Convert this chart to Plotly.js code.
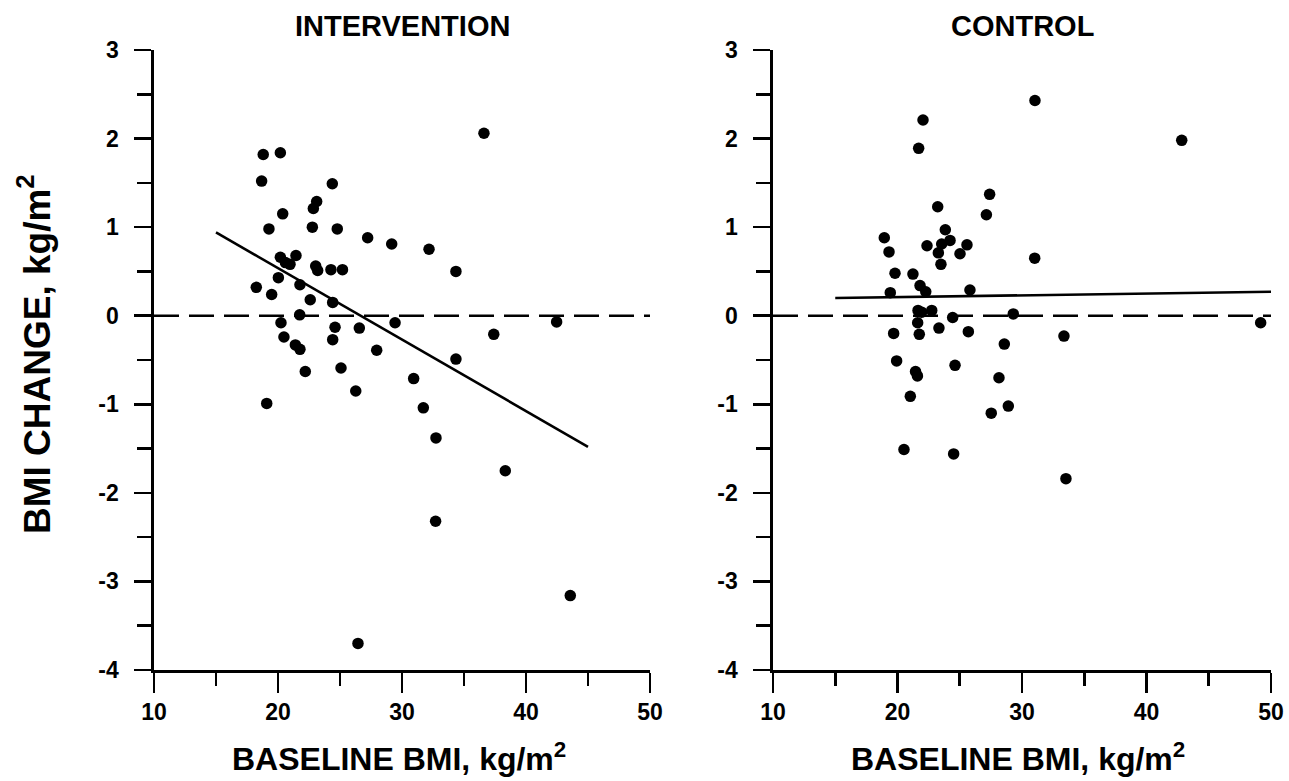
<!DOCTYPE html>
<html>
<head>
<meta charset="utf-8">
<script src="https://cdn.plot.ly/plotly-3.0.1.min.js"></script>
<style>html,body{margin:0;padding:0;background:#fff;}#chart{width:1289px;height:781px;}</style>
</head>
<body>
<div id="chart"></div>
<script>
// Intervention group: baseline BMI vs BMI change
var interventionX = [18.81,20.19,18.68,24.38,23.12,22.85,20.38,19.27,22.77,24.78,27.23,29.17,20.19,21.45,20.97,20.6,23.04,23.2,24.27,25.2,20.03,18.25,19.49,21.77,22.6,24.41,21.75,20.24,24.6,26.56,29.44,20.48,24.41,21.4,21.77,27.96,22.2,25.08,26.27,19.09,36.61,32.18,34.35,37.4,34.35,42.47,30.94,31.72,32.74,38.33,32.71,43.57,26.45];
var interventionY = [1.82,1.84,1.52,1.49,1.29,1.21,1.15,0.98,1.00,0.98,0.88,0.81,0.66,0.68,0.58,0.60,0.56,0.51,0.52,0.52,0.43,0.32,0.24,0.35,0.18,0.15,0.01,-0.08,-0.13,-0.14,-0.08,-0.24,-0.27,-0.33,-0.38,-0.39,-0.63,-0.59,-0.85,-0.99,2.06,0.75,0.50,-0.21,-0.49,-0.07,-0.71,-1.04,-1.38,-1.75,-2.32,-3.16,-3.70];
// Control group
var controlX = [31.04,22.05,21.7,27.4,27.14,23.23,23.84,18.94,19.32,24.22,22.37,23.55,23.28,25.58,25.02,23.49,31.02,19.8,21.24,21.81,22.27,19.42,25.82,21.65,21.94,22.75,29.3,24.43,21.62,19.69,21.75,23.33,25.69,28.58,19.93,21.45,21.6,24.62,28.15,21.03,28.9,27.53,20.52,24.51,42.83,49.17,33.37,33.53];
var controlY = [2.43,2.21,1.89,1.37,1.14,1.23,0.97,0.88,0.72,0.85,0.79,0.81,0.71,0.80,0.70,0.58,0.65,0.48,0.47,0.34,0.27,0.26,0.29,0.06,0.04,0.06,0.02,-0.02,-0.08,-0.20,-0.21,-0.14,-0.18,-0.32,-0.51,-0.63,-0.68,-0.56,-0.70,-0.91,-1.02,-1.10,-1.51,-1.56,1.98,-0.08,-0.23,-1.84];
// Fitted regression lines (end points)
var interventionFitX = [15, 45];
var interventionFitY = [0.94, -1.48];
var controlFitX = [15, 50];
var controlFitY = [0.20, 0.27];
// Zero reference line
var refX = [10, 50];
var refY = [0, 0];
// Axis ticks
var xTickVals = [10, 20, 30, 40, 50];
var xTickText = ['10', '20', '30', '40', '50'];
var yTickVals = [-4, -3, -2, -1, 0, 1, 2, 3];
var yTickText = ['-4', '-3', '-2', '-1', '0', '1', '2', '3'];
var panelTitles = ['INTERVENTION', 'CONTROL'];
var xTitle = 'BASELINE BMI, kg/m<sup>2</sup>';
var yTitle = 'BMI CHANGE, kg/m<sup>2</sup>';

var FONT = 'Liberation Sans, Arial, Helvetica, sans-serif';
var W = 1289, H = 781;

function markerTrace(x, y, xa, ya) {
  return {x: x, y: y, xaxis: xa, yaxis: ya, type: 'scatter', mode: 'markers',
    marker: {color: 'black', size: 11.5, line: {width: 0}}, hoverinfo: 'skip', cliponaxis: false};
}
function lineTrace(x, y, xa, ya, dash) {
  return {x: x, y: y, xaxis: xa, yaxis: ya, type: 'scatter', mode: 'lines',
    line: {color: 'black', width: 2.6, dash: dash}, hoverinfo: 'skip'};
}

var data = [
  lineTrace(refX, refY, 'x', 'y', '25px,10px'),
  lineTrace(refX, refY, 'x2', 'y2', '25px,10px'),
  lineTrace(interventionFitX, interventionFitY, 'x', 'y', 'solid'),
  lineTrace(controlFitX, controlFitY, 'x2', 'y2', 'solid'),
  markerTrace(interventionX, interventionY, 'x', 'y'),
  markerTrace(controlX, controlY, 'x2', 'y2')
];

function xAxis(d0, d1, anchor) {
  return {domain: [d0 / W, d1 / W], range: [10, 50], anchor: anchor,
    showline: true, linecolor: 'black', linewidth: 2.6, mirror: false,
    showgrid: false, zeroline: false,
    tickmode: 'array', tickvals: xTickVals, ticktext: xTickText,
    ticks: 'outside', ticklen: 20, tickwidth: 2.6, tickcolor: 'black',
    ticklabelstandoff: 0,
    tickfont: {family: FONT, size: 23, color: 'black', weight: 'bold'},
    minor: {tickmode: 'linear', tick0: 10, dtick: 5, ticks: 'outside', ticklen: 13, tickwidth: 2.6, tickcolor: 'black', showgrid: false},
    fixedrange: true};
}
function yAxis(anchor) {
  return {domain: [(H - 670) / H, (H - 50) / H], range: [-4, 3], anchor: anchor,
    showline: true, linecolor: 'black', linewidth: 2.6,
    showgrid: false, zeroline: false,
    tickmode: 'array', tickvals: yTickVals, ticktext: yTickText,
    ticks: 'outside', ticklen: 17, tickwidth: 2.6, tickcolor: 'black',
    ticklabelstandoff: 11,
    tickfont: {family: FONT, size: 23, color: 'black', weight: 'bold'},
    minor: {tickmode: 'linear', tick0: 0, dtick: 0.5, ticks: 'outside', ticklen: 14, tickwidth: 2.6, tickcolor: 'black', showgrid: false},
    fixedrange: true};
}

var layout = {
  width: W, height: H,
  margin: {l: 0, r: 0, t: 0, b: 0},
  paper_bgcolor: 'white', plot_bgcolor: 'white',
  showlegend: false,
  font: {family: FONT, color: 'black'},
  xaxis: xAxis(154, 650, 'y'),
  yaxis: yAxis('x'),
  xaxis2: xAxis(773, 1271, 'y2'),
  yaxis2: yAxis('x2'),
  annotations: [
    {text: panelTitles[0], xref: 'paper', yref: 'paper', x: 402 / W, y: 1 - 26 / H, xanchor: 'center', yanchor: 'middle', showarrow: false,
     font: {family: FONT, size: 29, color: 'black', weight: 'bold'}},
    {text: panelTitles[1], xref: 'paper', yref: 'paper', x: 1022 / W, y: 1 - 26 / H, xanchor: 'center', yanchor: 'middle', showarrow: false,
     font: {family: FONT, size: 29, color: 'black', weight: 'bold'}},
    {text: xTitle, xref: 'paper', yref: 'paper', x: 399 / W, y: 1 - 757 / H, xanchor: 'center', yanchor: 'middle', showarrow: false,
     font: {family: FONT, size: 32, color: 'black', weight: 'bold'}},
    {text: xTitle, xref: 'paper', yref: 'paper', x: 1018 / W, y: 1 - 757 / H, xanchor: 'center', yanchor: 'middle', showarrow: false,
     font: {family: FONT, size: 32, color: 'black', weight: 'bold'}},
    {text: yTitle, xref: 'paper', yref: 'paper', x: 34 / W, y: 1 - 354 / H, xanchor: 'center', yanchor: 'middle', textangle: -90, showarrow: false,
     font: {family: FONT, size: 37, color: 'black', weight: 'bold'}}
  ]
};

Plotly.newPlot('chart', data, layout, {staticPlot: true, displayModeBar: false});
</script>
</body>
</html>
